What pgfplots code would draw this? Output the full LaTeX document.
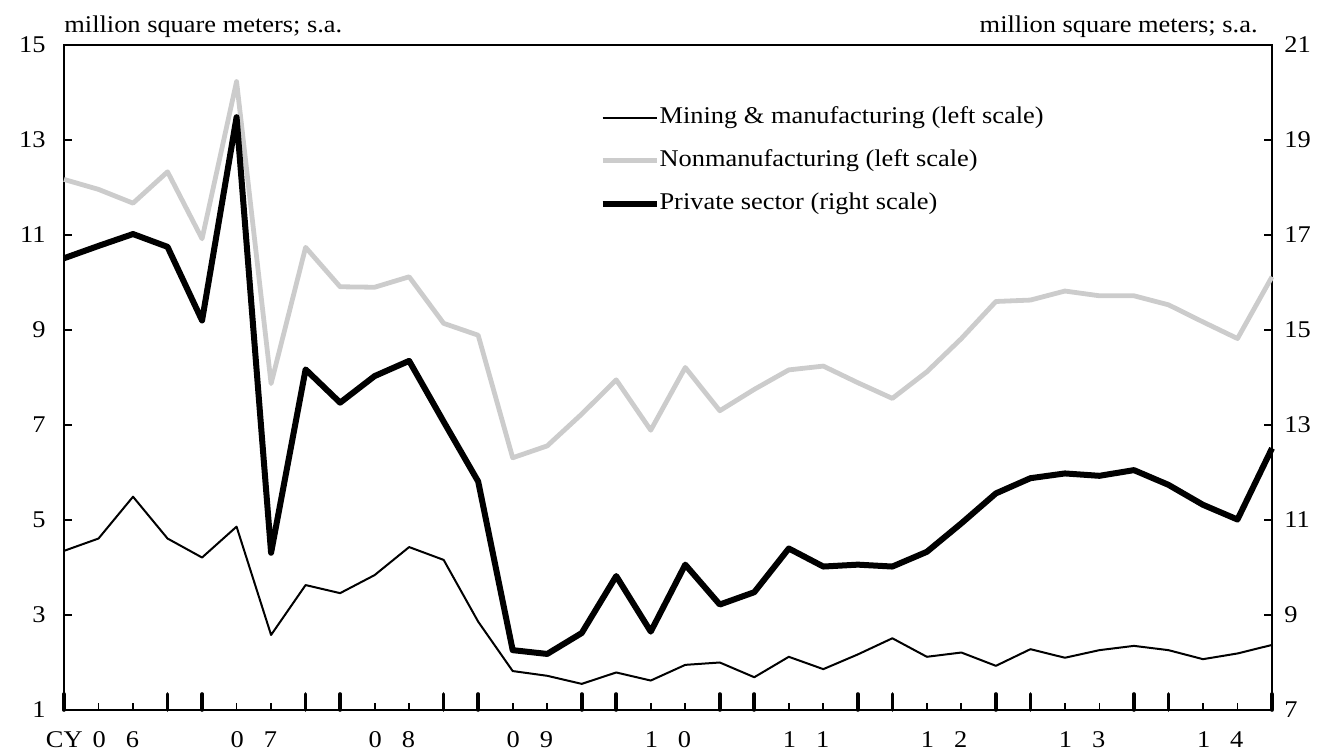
\documentclass[border=0pt]{standalone}
\usepackage{fontspec}
\setmainfont{Liberation Serif}[FakeStretch=1.1]
\usepackage{pgfplots}
\pgfplotsset{compat=1.18}
\definecolor{nonman}{RGB}{204,204,204}
\pgfplotstableread{
x mining nonman private
0 4.35 12.17 16.51
1 4.61 11.96 16.77
2 5.49 11.67 17.02
3 4.61 12.33 16.75
4 4.21 10.92 15.20
5 4.86 14.23 19.48
6 2.58 7.87 10.31
7 3.63 10.74 14.17
8 3.46 9.91 13.47
9 3.84 9.90 14.03
10 4.43 10.12 14.35
11 4.16 9.14 13.07
12 2.86 8.89 11.81
13 1.82 6.31 8.26
14 1.72 6.56 8.18
15 1.55 7.23 8.62
16 1.79 7.95 9.82
17 1.62 6.89 8.65
18 1.95 8.21 10.06
19 2.00 7.30 9.22
20 1.69 7.75 9.48
21 2.12 8.16 10.40
22 1.86 8.24 10.02
23 2.17 7.89 10.06
24 2.51 7.56 10.02
25 2.12 8.12 10.33
26 2.21 8.82 10.93
27 1.93 9.60 11.56
28 2.28 9.63 11.88
29 2.10 9.82 11.98
30 2.26 9.72 11.93
31 2.35 9.72 12.05
32 2.26 9.53 11.74
33 2.07 9.17 11.32
34 2.19 8.82 11.01
35 2.37 10.12 12.51
}\datatable
\begin{document}
\fontsize{12}{14}\selectfont
\begin{tikzpicture}[font=\fontsize{12}{14}\selectfont]
\useasboundingbox (-32pt,-22pt) rectangle (631.5pt,355pt);
% left axis
\begin{axis}[
  scale only axis, width=604pt, height=332.5pt,
  xmin=0, xmax=35, ymin=1, ymax=15,
  clip=false,
  axis line style={line width=1.3pt},
  xtick=\empty,
  ytick={1,3,...,15},
  ytick pos=left,
  tick align=inside,
  major tick length=4pt,
  tick style={line width=1pt, black},
  /pgf/number format/assume math mode=true,
  yticklabel style={inner sep=0pt, xshift=-9pt},
  legend style={draw=none, fill=none, at={(rel axis cs:0.443,0.908)}, anchor=north west,
    inner sep=0pt, row sep=10.5pt, column sep=0pt,
    nodes={inner sep=0pt, text height=8.5pt, text depth=2.5pt}},
  legend cell align=left,
  legend image code/.code={\draw[#1] (0pt,0pt) -- (27pt,0pt);},
]
\addplot[black, line width=1pt, line join=round] table[x=x, y=mining] {\datatable};
\addlegendentry{Mining \& manufacturing (left scale)}
\addplot[nonman, line width=2.4pt, line join=round] table[x=x, y=nonman] {\datatable};
\addlegendentry{Nonmanufacturing (left scale)}
\addlegendimage{black, line width=3pt}
\addlegendentry{Private sector (right scale)}
\node[anchor=base west, inner sep=0pt] at (rel axis cs:0,1) [yshift=6pt] {million square meters; s.a.};
\node[anchor=base east, inner sep=0pt] at (rel axis cs:1,1) [xshift=-7pt, yshift=6pt] {million square meters; s.a.};
\end{axis}
% x ticks axis
\begin{axis}[
  scale only axis, width=604pt, height=332.5pt,
  xmin=0, xmax=35, ymin=0, ymax=1,
  axis x line*=bottom, axis y line=none,
  x axis line style={draw=none},
  xtick={0,3,4,7,8,11,12,15,16,19,20,23,24,27,28,31,32,35},
  minor xtick={1,2,5,6,9,10,13,14,17,18,21,22,25,26,29,30,33,34},
  xticklabels={},
  tick align=inside,
  major tick length=8pt,
  minor tick length=3.5pt,
  major tick style={line width=1.8pt, line cap=round, black},
  minor tick style={line width=0.9pt, black},
  extra x ticks={1.5,5.5,9.5,13.5,17.5,21.5,25.5,29.5,33.5},
  extra x tick labels={\llap{CY\hspace{5pt}}0\hspace{10pt}6, 0\hspace{10pt}7, 0\hspace{10pt}8, 0\hspace{10pt}9, 1\hspace{10pt}0, 1\hspace{10pt}1, 1\hspace{10pt}2, 1\hspace{10pt}3, 1\hspace{10pt}4},
  extra x tick style={major tick length=0pt, major tick style={draw=none}},
  xticklabel style={anchor=base, inner sep=0pt, yshift=-19pt},
]
\addplot[draw=none] coordinates {(0,0)};
\end{axis}
% right axis
\begin{axis}[
  scale only axis, width=604pt, height=332.5pt,
  xmin=0, xmax=35, ymin=7, ymax=21,
  clip=false,
  axis y line*=right, axis x line=none,
  y axis line style={draw=none},
  ytick={7,9,...,21},
  tick align=inside,
  major tick length=4pt,
  tick style={line width=1pt, black},
  /pgf/number format/assume math mode=true,
  yticklabel style={inner sep=0pt, xshift=6pt},
]
\addplot[black, line width=3pt, line join=round] table[x=x, y=private] {\datatable};
\end{axis}
\end{tikzpicture}
\end{document}
